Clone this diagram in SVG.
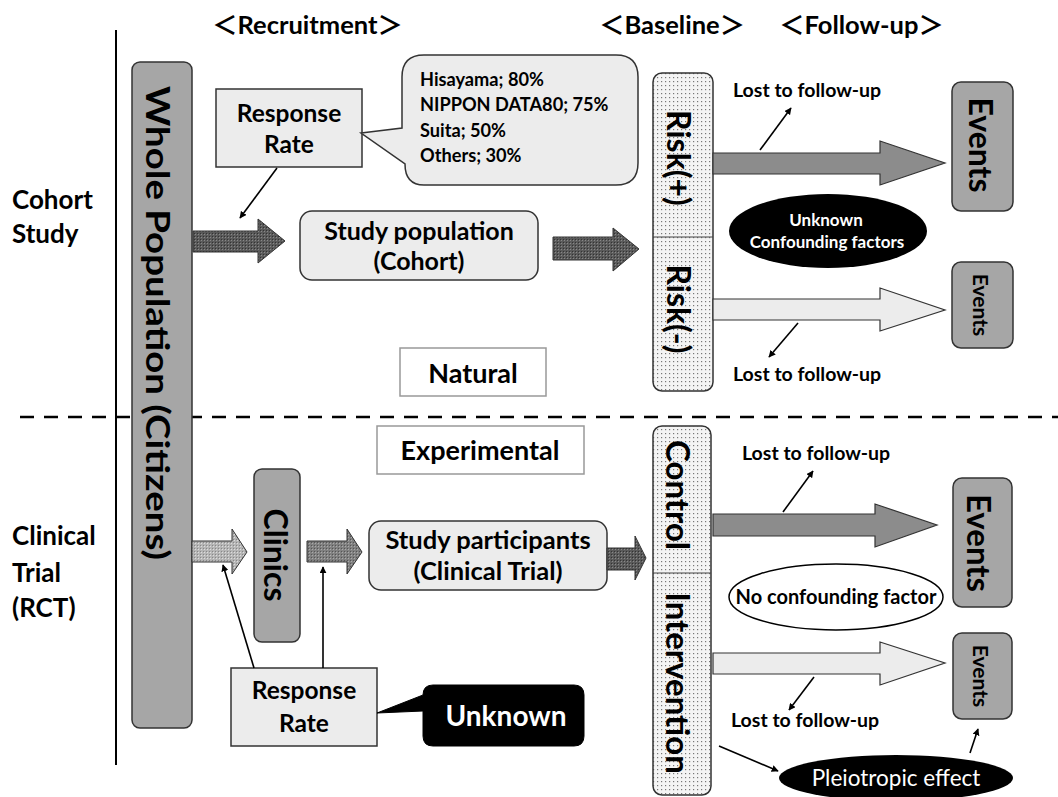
<svg xmlns="http://www.w3.org/2000/svg" width="1058" height="797" viewBox="0 0 1058 797">
<style>
text{font-family:Lato,"Noto Sans CJK JP",sans-serif;font-weight:bold;fill:#000}
.hdr{font-size:25.5px}
.side{font-size:26px}
.lost{font-size:19.5px}
.bub{font-size:18.2px}
.gbar{fill:#a6a6a6;stroke:#333;stroke-width:1.5}
.lbox{fill:#ececec;stroke:#333;stroke-width:1.5}
.plain{fill:#fff;stroke:#999;stroke-width:1.5}
.dots{fill:url(#dots);stroke:#333;stroke-width:1.5}
.a-dark{fill:url(#hatchDark);stroke:#333;stroke-width:1}
.a-mid{fill:#8c8c8c;stroke:#333;stroke-width:1.2}
.a-light{fill:#ececec;stroke:#333;stroke-width:1.2}
.a-tex{fill:url(#hatchMid);stroke:#333;stroke-width:1}
.a-tex2{fill:url(#hatchLight);stroke:#333;stroke-width:1}
.ln{stroke:#000;stroke-width:1.6;fill:none;marker-end:url(#ah)}
.rot{text-anchor:middle;dominant-baseline:central}
.mid{text-anchor:middle}
.wt{fill:#fff}
</style>
<defs>
<pattern id="dots" width="4" height="4" patternUnits="userSpaceOnUse">
<rect width="4" height="4" fill="#f4f4f4"/>
<rect x="1" y="1" width="1.2" height="1.2" fill="#777"/>
</pattern>
<pattern id="hatchDark" width="3" height="3" patternUnits="userSpaceOnUse">
<rect width="3" height="3" fill="#5a5a5a"/>
<rect width="1" height="1" fill="#888"/>
<rect x="2" y="2" width="1" height="1" fill="#333"/>
</pattern>
<pattern id="hatchMid" width="3" height="3" patternUnits="userSpaceOnUse">
<rect width="3" height="3" fill="#808080"/>
<rect width="1" height="1" fill="#aaa"/>
<rect x="2" y="2" width="1" height="1" fill="#555"/>
</pattern>
<pattern id="hatchLight" width="3" height="3" patternUnits="userSpaceOnUse">
<rect width="3" height="3" fill="#b5b5b5"/>
<rect width="1" height="1" fill="#ddd"/>
<rect x="2" y="2" width="1" height="1" fill="#888"/>
</pattern>
<marker id="ah" viewBox="0 0 10 10" refX="9" refY="5" markerWidth="7" markerHeight="7" orient="auto" markerUnits="userSpaceOnUse">
<path d="M0,0 L10,5 L0,10 Z" fill="#000"/>
</marker>
</defs>

<!-- frame lines -->
<line x1="116" y1="30" x2="116" y2="765" stroke="#000" stroke-width="2"/>
<line x1="20" y1="417" x2="1058" y2="417" stroke="#000" stroke-width="2.5" stroke-dasharray="14,10"/>

<!-- headers -->
<text class="hdr" x="212" y="34">＜Recruitment＞</text>
<text class="hdr" x="599" y="34">＜Baseline＞</text>
<text class="hdr" x="779" y="34">＜Follow-up＞</text>

<!-- side labels -->
<text class="side" x="12" y="209">Cohort</text>
<text class="side" x="12" y="243">Study</text>
<text class="side" x="12" y="545">Clinical</text>
<text class="side" x="12" y="582">Trial</text>
<text class="side" x="12" y="617">(RCT)</text>

<g id="whole-population">
<rect class="gbar" x="132" y="62" width="60" height="666" rx="8"/>
<text class="rot" style="font-size:32px" textLength="474" lengthAdjust="spacingAndGlyphs" transform="translate(158,323) rotate(90)">Whole Population (Citizens)</text>
</g>

<g id="response-rate-cohort">
<rect class="lbox" x="216" y="89" width="146" height="78"/>
<text class="mid" x="289" y="122" style="font-size:24.5px">Response</text>
<text class="mid" x="289" y="153" style="font-size:24.5px">Rate</text>
</g>

<g id="callout-rates">
<path d="M424,55 H616 Q638,55 638,77 V163 Q638,185 616,185 H424 Q405,185 405,164 L361,133 L402,128 V77 Q402,55 424,55 Z" fill="#ececec" stroke="#333" stroke-width="1.5"/>
<text class="bub" x="420" y="86">Hisayama; 80%</text>
<text class="bub" x="420" y="111">NIPPON DATA80; 75%</text>
<text class="bub" x="420" y="137">Suita; 50%</text>
<text class="bub" x="420" y="162">Others; 30%</text>
</g>

<g id="study-population">
<rect class="lbox" x="300" y="211" width="238" height="69" rx="12"/>
<text class="mid" x="419" y="240" style="font-size:25px">Study population</text>
<text class="mid" x="419" y="270" style="font-size:25px">(Cohort)</text>
</g>

<g id="risk-column">
<rect class="dots" x="653" y="73" width="60" height="318" rx="9"/>
<line x1="653" y1="237" x2="713" y2="237" stroke="#444" stroke-width="1.2"/>
<text class="rot" style="font-size:32px" transform="translate(679,158) rotate(90)">Risk(+)</text>
<text class="rot" style="font-size:32px" transform="translate(679,309) rotate(90)">Risk(-)</text>
</g>

<g id="events-cohort-1">
<rect class="gbar" x="952" y="82" width="61" height="129" rx="9"/>
<text class="rot" style="font-size:32px" transform="translate(981,145) rotate(90)">Events</text>
</g>
<g id="events-cohort-2">
<rect class="gbar" x="952" y="262" width="61" height="86" rx="9"/>
<text class="rot" style="font-size:21px" transform="translate(981,305) rotate(90)">Events</text>
</g>

<g id="unknown-confounding">
<ellipse cx="828" cy="231" rx="99" ry="37" fill="#000"/>
<text class="mid wt" x="826" y="226" style="font-size:17px">Unknown</text>
<text class="mid wt" x="827" y="248" style="font-size:17px">Confounding factors</text>
</g>

<g id="natural">
<rect class="plain" x="400" y="348" width="146" height="48"/>
<text class="mid" x="473" y="383" style="font-size:27px">Natural</text>
</g>

<g id="experimental">
<rect class="plain" x="377" y="426" width="207" height="48"/>
<text class="mid" x="480" y="460" style="font-size:27px">Experimental</text>
</g>

<g id="clinics">
<rect class="gbar" x="254" y="469" width="46" height="173" rx="8"/>
<text class="rot" style="font-size:32px" transform="translate(276,555) rotate(90)">Clinics</text>
</g>

<g id="study-participants">
<rect class="lbox" x="369" y="521" width="238" height="69" rx="12"/>
<text class="mid" x="488" y="549" style="font-size:25.5px">Study participants</text>
<text class="mid" x="488" y="580" style="font-size:25.5px">(Clinical Trial)</text>
</g>

<g id="control-intervention">
<rect class="dots" x="653" y="426" width="58" height="369" rx="9"/>
<line x1="653" y1="573" x2="711" y2="573" stroke="#444" stroke-width="1.2"/>
<text class="rot" style="font-size:33px" transform="translate(679,495) rotate(90)">Control</text>
<text class="rot" style="font-size:33px" transform="translate(679,683) rotate(90)">Intervention</text>
</g>

<g id="events-rct-1">
<rect class="gbar" x="953" y="478" width="59" height="129" rx="9"/>
<text class="rot" style="font-size:33px" transform="translate(980,543) rotate(90)">Events</text>
</g>
<g id="events-rct-2">
<rect class="gbar" x="953" y="633" width="59" height="86" rx="9"/>
<text class="rot" style="font-size:21px" transform="translate(981,676) rotate(90)">Events</text>
</g>

<g id="no-confounding">
<ellipse cx="836" cy="597" rx="107" ry="33" fill="#fff" stroke="#000" stroke-width="1.5"/>
<text class="mid" x="836" y="604" style="font-size:20px">No confounding factor</text>
</g>

<g id="response-rate-rct">
<rect class="lbox" x="231" y="668" width="146" height="78"/>
<text class="mid" x="304" y="699" style="font-size:24.5px">Response</text>
<text class="mid" x="304" y="732" style="font-size:24.5px">Rate</text>
</g>

<g id="unknown-callout">
<path d="M433,685 H574 Q584,685 584,695 V736 Q584,746 574,746 H433 Q423,746 423,736 V711 L377,713 L423,695 Q423,685 433,685 Z" fill="#000" stroke="#000" stroke-width="1"/>
<text class="mid wt" x="506" y="726" style="font-size:28px">Unknown</text>
</g>

<g id="pleiotropic">
<ellipse cx="896" cy="778" rx="117" ry="23" fill="#000"/>
<text class="mid wt" x="896" y="786" style="font-size:22.5px;font-weight:normal">Pleiotropic effect</text>
</g>

<g id="lost-labels">
<text class="lost" x="733" y="97">Lost to follow-up</text>
<text class="lost" x="733" y="381">Lost to follow-up</text>
<text class="lost" x="742" y="460">Lost to follow-up</text>
<text class="lost" x="731" y="727">Lost to follow-up</text>
</g>

<g id="connectors">
<!-- block arrows -->
<polygon class="a-dark" points="193,231 258,231 258,219 285,241 258,263 258,252 193,252"/>
<polygon class="a-dark" points="553,237 613,237 613,228 639,249 613,271 613,260 553,260"/>
<polygon class="a-mid" points="713,153 880,153 880,141 945,163 880,185 880,174 713,174"/>
<polygon class="a-light" points="713,299 880,299 880,288 945,310 880,331 880,320 713,320"/>
<polygon class="a-tex2" points="192,541 232,541 232,529 247,552 232,574 232,562 192,562"/>
<polygon class="a-tex" points="307,541 347,541 347,529 362,552 347,574 347,562 307,562"/>
<polygon class="a-dark" points="607,548 635,548 635,536 646,558 635,580 635,570 607,570"/>
<polygon class="a-mid" points="713,514 875,514 875,504 937,525 875,547 875,536 713,536"/>
<polygon class="a-light" points="713,653 880,653 880,642 945,663 880,685 880,674 713,674"/>
<!-- line arrows -->
<line class="ln" x1="277" y1="168" x2="240" y2="218"/>
<line class="ln" x1="760" y1="150" x2="791" y2="108"/>
<line class="ln" x1="798" y1="323" x2="769" y2="357"/>
<line class="ln" x1="254" y1="668" x2="223" y2="565"/>
<line class="ln" x1="323" y1="668" x2="323" y2="567"/>
<line class="ln" x1="783" y1="512" x2="813" y2="471"/>
<line class="ln" x1="814" y1="677" x2="789" y2="710"/>
<line class="ln" x1="719" y1="746" x2="778" y2="771"/>
<line class="ln" x1="970" y1="753" x2="978" y2="729"/>
</g>
</svg>
